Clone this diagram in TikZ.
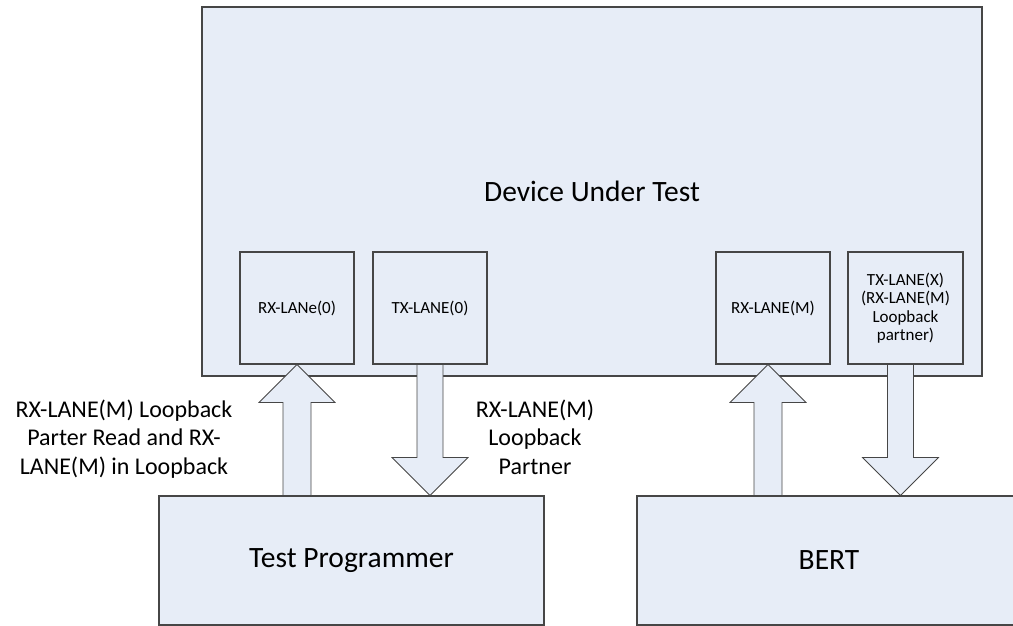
\documentclass[tikz,border=0pt]{standalone}
\usepackage{fontspec}
\setmainfont{Carlito}
\usetikzlibrary{calc}
\definecolor{boxfill}{RGB}{231,237,247}
\definecolor{linecol}{RGB}{70,70,70}
\tikzset{
  blk/.style={draw=linecol, fill=boxfill, line width=1.1pt, inner sep=0pt, anchor=center},
  lane/.style={blk, minimum width=114pt, minimum height=112pt, align=center,
    font=\fontsize{17}{18.5}\selectfont},
  big/.style={font=\fontsize{29.5}{34}\selectfont},
  lbl/.style={align=center, font=\fontsize{24}{28.5}\selectfont, inner sep=0pt},
  blockarrow/.style={draw=linecol, fill=boxfill, line width=0.8pt, line join=miter}
}
\newcommand\UpBlock[2]{% tip, base
  \draw[blockarrow] ($(#2)+(-14,0)$) -- ($(#1)+(-14,38)$) -- ($(#1)+(-38,38)$) -- (#1)
    -- ($(#1)+(38,38)$) -- ($(#1)+(14,38)$) -- ($(#2)+(14,0)$) -- cycle;}
\newcommand\DownBlock[2]{% top, tip
  \draw[blockarrow] ($(#1)+(-13,0)$) -- ($(#2)+(-13,-38)$) -- ($(#2)+(-38,-38)$) -- (#2)
    -- ($(#2)+(38,-38)$) -- ($(#2)+(13,-38)$) -- ($(#1)+(13,0)$) -- cycle;}
\begin{document}
\begin{tikzpicture}[x=1pt,y=-1pt]
\useasboundingbox (0,0) rectangle (1013,626);
\begin{scope}
\clip (0,0) rectangle (1013,626);
% main boxes
\node[blk, big, minimum width=780pt, minimum height=369pt] (dut) at (592,191.5) {Device Under Test};
\node[lane] (rx0) at (297,308) {RX-LANe(0)};
\node[lane] (tx0) at (430,308) {TX-LANE(0)};
\node[lane] (rxm) at (773,308) {RX-LANE(M)};
\node[lane, minimum width=115pt] (txx) at (905.5,308) {TX-LANE(X)\\(RX-LANE(M)\\Loopback\\partner)};
\node[blk, big, minimum width=385pt, minimum height=129pt] (tp) at (351.5,560.5) {Test Programmer};
\node[blk, big, minimum width=384pt, minimum height=129pt] (bert) at (829,560.5) {BERT};
% block arrows
\coordinate (a1t) at (rx0.south);
\coordinate (a1b) at (a1t |- tp.north);
\UpBlock{a1t}{a1b}
\coordinate (a2t) at (tx0.south);
\coordinate (a2b) at (a2t |- tp.north);
\DownBlock{a2t}{a2b}
\coordinate (a3t) at ($(rxm.south)+(-5,0)$);
\coordinate (a3b) at (a3t |- bert.north);
\UpBlock{a3t}{a3b}
\coordinate (a4t) at ($(txx.south)+(-5,0)$);
\coordinate (a4b) at (a4t |- bert.north);
\DownBlock{a4t}{a4b}
\end{scope}
% labels
\node[lbl] (lblL) at (124,439) {RX-LANE(M) Loopback\\Parter Read and RX-\\LANE(M) in Loopback};
\node[lbl] (lblM) at (535,437) {RX-LANE(M)\\Loopback\\Partner};
\end{tikzpicture}
\end{document}
